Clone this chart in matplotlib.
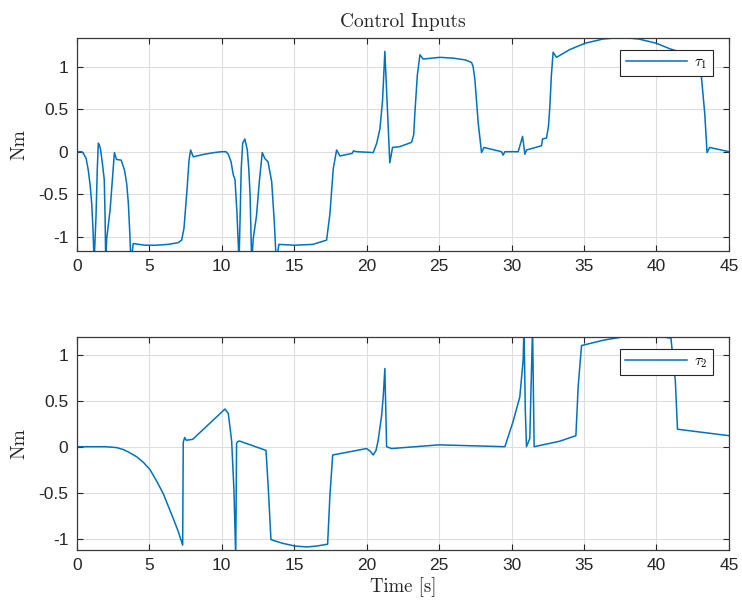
import matplotlib
matplotlib.use('Agg')
import matplotlib.pyplot as plt

# tau_1 control input [Nm]
t1 = [0, 0.35, 0.46, 0.65, 0.8, 0.93, 1.03, 1.12, 1.2, 1.33, 1.42, 1.49, 1.56,
      1.64, 1.78, 1.9, 1.96, 2.0, 2.07, 2.3, 2.45, 2.6, 2.74, 3.07, 3.3, 3.45,
      3.56, 3.66, 3.74, 3.9, 4.7, 5.5, 6.3, 7.0, 7.24, 7.4, 7.6, 7.75, 7.86,
      8.04, 8.8, 9.5, 10.0, 10.3, 10.46, 10.65, 10.8, 10.92, 11.05, 11.2, 11.35,
      11.45, 11.6, 11.77, 11.87, 11.96, 12.07, 12.18, 12.4, 12.6, 12.8, 12.98,
      13.2, 13.45, 13.63, 13.77, 13.95, 15.0, 16.3, 17.24, 17.47, 17.7, 17.93,
      18.16, 19.0, 19.1, 19.31, 20.46, 20.7, 20.92, 21.1, 21.26, 21.4, 21.6,
      21.79, 22.3, 23.1, 23.25, 23.33, 23.5, 23.68, 23.9, 24.5, 25.06, 26.0,
      26.8, 27.24, 27.35, 27.47, 27.7, 27.93, 28.1, 29.31, 29.42, 29.54, 30.46,
      30.76, 30.92, 31.03, 32.07, 32.14, 32.41, 32.55, 32.64, 32.75, 32.87,
      33.1, 34.0, 35.06, 36.3, 37.6, 38.8, 40.0, 40.93, 41.5, 42.3, 42.8, 43.1,
      43.33, 43.49, 43.67, 45]
tau1 = [0, 0, -0.02, -0.08, -0.22, -0.4, -0.6, -0.9, -1.3, -0.76, -0.2, 0.1,
        0.08, 0.03, -0.15, -0.33, -0.8, -1.3, -1.02, -0.69, -0.35, -0.01,
        -0.09, -0.1, -0.22, -0.38, -0.6, -0.95, -1.3, -1.08, -1.1, -1.1, -1.09,
        -1.07, -1.04, -0.9, -0.47, -0.1, 0.02, -0.06, -0.03, -0.01, 0.0, 0.0,
        -0.03, -0.12, -0.27, -0.33, -0.7, -1.3, -0.2, 0.1, 0.15, 0.02, -0.2,
        -0.5, -1.3, -1.02, -0.76, -0.35, -0.01, -0.08, -0.12, -0.35, -0.82,
        -1.3, -1.09, -1.1, -1.09, -1.04, -0.73, -0.2, 0.02, -0.05, -0.02, 0.01,
        0.0, -0.01, 0.1, 0.27, 0.6, 1.18, 0.65, -0.13, 0.05, 0.06, 0.11, 0.2,
        0.45, 0.9, 1.14, 1.09, 1.1, 1.11, 1.1, 1.08, 1.05, 1.0, 0.85, 0.34,
        -0.01, 0.05, 0.0, -0.04, 0.0, 0.0, 0.18, -0.03, 0.02, 0.07, 0.15, 0.16,
        0.3, 0.52, 0.9, 1.17, 1.11, 1.2, 1.275, 1.325, 1.345, 1.325, 1.275, 1.21,
        1.18, 1.1, 1.0, 0.88, 0.45, -0.01, 0.05, 0.0]

# tau_2 control input [Nm]
t2 = [0, 2.0, 2.76, 3.2, 3.6, 4.14, 4.6, 5.06, 5.5, 5.97, 6.3, 6.66, 7.0,
      7.31, 7.35, 7.45, 7.56, 8.0, 10.23, 10.46, 10.69, 10.85, 10.97, 11.03,
      11.15, 11.26, 13.06, 13.22, 13.4, 14.2, 15.06, 15.9, 16.55, 17.31, 17.47,
      17.66, 20.0, 20.25, 20.46, 20.65, 20.8, 21.03, 21.15, 21.26, 21.38,
      21.72, 25.0, 29.54, 30.1, 30.57, 30.8, 30.86, 30.95, 31.03, 31.26,
      31.45, 31.56, 33.33, 34.44, 34.6, 34.83, 36.4, 37.93, 39.2, 40.57, 41.0,
      41.08, 41.3, 41.45, 45]
tau2 = [0, 0, -0.01, -0.03, -0.06, -0.11, -0.17, -0.25, -0.37, -0.51, -0.64,
        -0.78, -0.92, -1.07, 0.05, 0.1, 0.07, 0.08, 0.41, 0.36, 0.06, -0.48,
        -1.2, 0.04, 0.06, 0.06, -0.04, -0.46, -1.01, -1.05, -1.08, -1.09,
        -1.08, -1.06, -0.53, -0.09, -0.02, -0.05, -0.09, -0.04, 0.07, 0.33,
        0.55, 0.85, 0.0, -0.02, 0.02, 0.0, 0.27, 0.54, 0.94, 1.3, 0.4, 0.0,
        0.09, 1.3, 0.0, 0.06, 0.12, 0.66, 1.1, 1.16, 1.2, 1.2, 1.19, 1.18, 1.05,
        0.72, 0.19, 0.12]

plt.rcParams['font.family'] = ['Liberation Sans', 'DejaVu Sans']
plt.rcParams['axes.unicode_minus'] = False
plt.rcParams['mathtext.fontset'] = 'cm'

line_col = '#0072BD'
dark = '#262626'

fig = plt.figure(figsize=(7.42, 6.06), dpi=100)
ax1 = fig.add_axes([0.1034, 0.5858, 0.879, 0.352])
ax2 = fig.add_axes([0.1034, 0.0924, 0.879, 0.352])

for ax, t, v, lab, ylim in [(ax1, t1, tau1, r'$\tau_1$', (-1.168, 1.341)),
                            (ax2, t2, tau2, r'$\tau_2$', (-1.123, 1.196))]:
    ax.plot(t, v, color=line_col, lw=1.1, label=lab)
    ax.set_xlim(0, 45)
    ax.set_ylim(*ylim)
    ax.set_xticks(range(0, 46, 5))
    ax.set_yticks([-1, -0.5, 0, 0.5, 1])
    ax.set_yticklabels(['-1', '-0.5', '0', '0.5', '1'])
    ax.grid(True, color='#dedede', lw=0.8)
    ax.set_axisbelow(True)
    ax.tick_params(direction='in', top=True, right=True, length=4,
                   width=0.8, colors=dark, labelsize=12.5, pad=6)
    for sp in ax.spines.values():
        sp.set_color('#3a3a3a')
        sp.set_linewidth(0.9)
    ax.set_ylabel('Nm', family='cmr10', fontsize=14, color=dark, labelpad=7)
    leg = ax.legend(loc='upper right', bbox_to_anchor=(0.9755, 0.9423),
                    borderaxespad=0, fancybox=False, framealpha=1,
                    edgecolor=dark, fontsize=11, handlelength=4.0,
                    borderpad=0.35, handletextpad=0.5)
    leg.get_frame().set_linewidth(0.8)

ax1.set_title('Control Inputs', family='cmr10', fontsize=14, color=dark, pad=8)
ax2.set_xlabel('Time [s]', family='cmr10', fontsize=13.5, color=dark, labelpad=3)

fig.savefig('out.png', dpi=100)
